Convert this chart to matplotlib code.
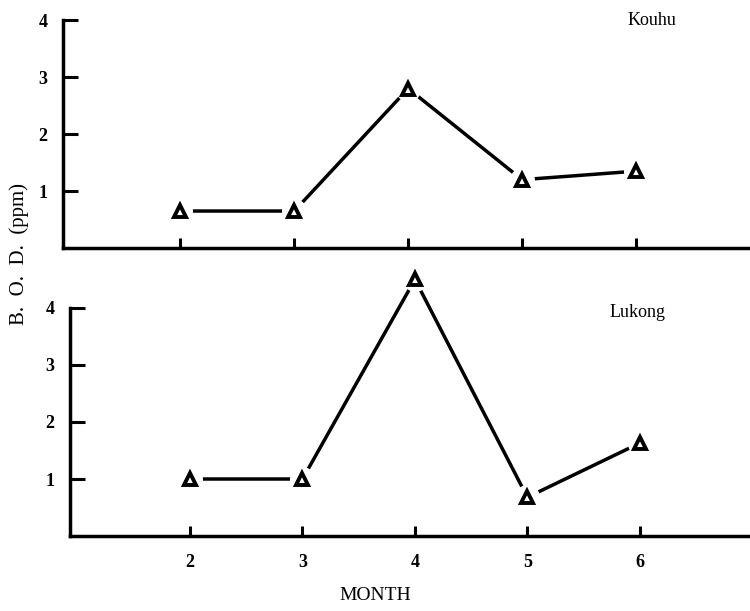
import matplotlib.pyplot as plt

plt.rcParams['font.family'] = ['Liberation Serif', 'DejaVu Serif']

months = [2, 3, 4, 5, 6]
kouhu_bod = [0.65, 0.65, 2.8, 1.2, 1.35]
lukong_bod = [1.0, 1.0, 4.5, 0.68, 1.63]
y_ticks = [1, 2, 3, 4]


def draw_panel(ax, values, name, name_xy, show_xlabels):
    ax.plot(months, values, color='black', lw=2.5, zorder=2, clip_on=False)
    # white pads so the line stops short of each marker, as in the print
    ax.plot(months, values, ls='none', marker='o', ms=17, mfc='white', mec='white',
            zorder=3, clip_on=False)
    ax.plot(months, values, ls='none', marker='^', ms=9, mfc='white', mec='black',
            mew=2.8, zorder=4, clip_on=False)

    ax.set_ylim(0, 4)
    ax.set_yticks(y_ticks)
    ax.set_xticks(months)
    for s in ['top', 'right']:
        ax.spines[s].set_visible(False)
    for s in ['left', 'bottom']:
        ax.spines[s].set_linewidth(2.5)
    ax.tick_params(axis='y', direction='in', length=11, width=2.2, pad=11, labelsize=13)
    ax.tick_params(axis='x', direction='in', length=7, width=2.2, pad=13, labelsize=13,
                   labelbottom=show_xlabels)
    for lab in ax.get_xticklabels() + ax.get_yticklabels():
        lab.set_fontweight('bold')
    ax.text(name_xy[0], name_xy[1], name, transform=ax.transAxes, fontsize=13,
            ha='center', va='center')


fig = plt.figure(figsize=(7.5, 6.11), dpi=100)

ax_top = fig.add_axes([0.084, 0.594, 0.916, 0.373])
ax_top.set_xlim(0.97, 7.0)
draw_panel(ax_top, kouhu_bod, 'Kouhu', (0.857, 1.0), False)

ax_bot = fig.add_axes([0.093, 0.1227, 0.907, 0.3733])
ax_bot.set_xlim(0.93, 6.98)
draw_panel(ax_bot, lukong_bod, 'Lukong', (0.835, 0.98), True)

fig.text(375 / 750, 1 - 595 / 611, 'MONTH', fontsize=14, ha='center', va='center')
fig.text(19 / 750, 1 - 254 / 611, 'B.  O.  D.  (ppm)', fontsize=15, rotation=90,
         ha='center', va='center')

fig.savefig('out.png', dpi=100)
